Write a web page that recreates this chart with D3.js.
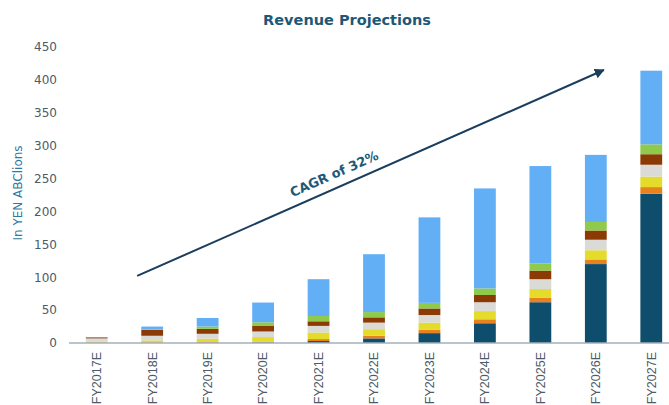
<!DOCTYPE html>
<html>
<head>
<meta charset="utf-8">
<script src="https://cdn.jsdelivr.net/npm/d3@7"></script>
<style>
  html, body { margin: 0; padding: 0; background: #fff; }
  svg { display: block; font-family: "DejaVu Sans", Verdana, sans-serif; }
</style>
</head>
<body>
<svg id="chart" width="669" height="405"></svg>
<script>
// ---- data ----
const categories = ["FY2017E","FY2018E","FY2019E","FY2020E","FY2021E","FY2022E","FY2023E","FY2024E","FY2025E","FY2026E","FY2027E"];
const seriesNames = ["S1","S2","S3","S4","S5","S6","S7"];
const s1Navy   = [0,   0,   0.5, 1,  3,  7,  15,  30,  62, 120, 227];
const s2Orange = [0.5, 1,   1,   1,  3,  4,  5,   6,   7,  7,   10];
const s3Yellow = [1,   3,   5,   7,  10, 10, 11,  12.5,13, 14,  16];
const s4Gray   = [5.5, 7,   7.5, 8.5,10, 10, 11.5,13.5,15, 16,  18];
const s5Brown  = [1.5, 9,   7.5, 9,  7,  8,  10,  11,  13, 14,  16];
const s6Green  = [0,   1,   3.5, 5,  8,  8,  8.5, 10,  11, 13,  15];
const s7Blue   = [0,   4,   13,  30, 56, 88, 130, 152, 148,102, 112];
const seriesColors = ["#0e4d6c","#e8821e","#e4db2b","#dadad6","#8b3a06","#8fca4a","#63aff6"];
const yTicks = [0,50,100,150,200,250,300,350,400,450];
const titleText = "Revenue Projections";
const yAxisTitle = "In YEN ABClions";
const cagrText = "CAGR of 32%";
// arrow annotation anchored in data space: [category, value]
const arrowFrom = ["FY2018E", 102];
const arrowTo = ["FY2026E", 415];

// ---- build ----
const svg = d3.select("#chart");
const table = categories.map((c, i) => ({
  cat: c, S1: s1Navy[i], S2: s2Orange[i], S3: s3Yellow[i], S4: s4Gray[i],
  S5: s5Brown[i], S6: s6Green[i], S7: s7Blue[i]
}));
const stack = d3.stack().keys(seriesNames)(table);

const x = d3.scaleBand().domain(categories).range([69, 679]).paddingInner(0.607).paddingOuter(0.3035);
const y = d3.scaleLinear().domain([0, 450]).range([343, 47]);

// title
svg.append("text").attr("x", 347).attr("y", 25).attr("text-anchor", "middle")
  .attr("font-size", 14.5).attr("font-weight", "bold").attr("fill", "#1f5876").text(titleText);

// y axis labels
const yAxis = d3.axisLeft(y).tickValues(yTicks).tickSize(0).tickPadding(0);
const gy = svg.append("g").attr("transform", "translate(57,0)").call(yAxis);
gy.select(".domain").remove();
gy.selectAll("text").attr("font-size", 12).attr("fill", "#4b5b67").attr("font-family", "DejaVu Sans, Verdana, sans-serif");

// y axis title
svg.append("text").attr("transform", "translate(22,193) rotate(-90)").attr("text-anchor", "middle")
  .attr("font-size", 12).attr("fill", "#2f7aa0").text(yAxisTitle);

// bars
svg.append("g").selectAll("g").data(stack).join("g")
  .attr("fill", (d, i) => seriesColors[i])
  .selectAll("rect").data(d => d).join("rect")
  .attr("x", d => x(d.data.cat))
  .attr("width", x.bandwidth())
  .attr("y", d => y(d[1]))
  .attr("height", d => Math.max(0, y(d[0]) - y(d[1])));

// x axis
const xAxis = d3.axisBottom(x).tickSize(0).tickPadding(0);
const gx = svg.append("g").attr("transform", `translate(0,${y(0)})`).call(xAxis);
gx.select(".domain").attr("stroke", "#a3b1bc").attr("stroke-width", 1.5).attr("d", "M69,0H669");
gx.selectAll("text")
  .attr("font-size", 12.5).attr("fill", "#4b5b67").attr("font-family", "Liberation Sans, Arial, sans-serif")
  .attr("text-anchor", "end").attr("dy", "0.35em")
  .attr("transform", "translate(0,9) rotate(-90)")
  .attr("x", 0).attr("y", 0);

// arrow
const defs = svg.append("defs");
defs.append("marker").attr("id", "ah").attr("viewBox", "0 0 10 10").attr("refX", 9).attr("refY", 5)
  .attr("markerWidth", 5).attr("markerHeight", 5).attr("orient", "auto")
  .append("path").attr("d", "M0,0L10,5L0,10z").attr("fill", "#1b3d5e");
const ax1 = x(arrowFrom[0]) + x.bandwidth() / 2 - 15, ay1 = y(arrowFrom[1]);
const ax2 = x(arrowTo[0]) + x.bandwidth() / 2 + 8, ay2 = y(arrowTo[1]);
svg.append("line").attr("x1", ax1).attr("y1", ay1).attr("x2", ax2).attr("y2", ay2)
  .attr("stroke", "#1b3d5e").attr("stroke-width", 2).attr("marker-end", "url(#ah)");
const ang = Math.atan2(ay2 - ay1, ax2 - ax1) * 180 / Math.PI;
svg.append("text").attr("transform", `translate(336,178) rotate(${ang})`).attr("text-anchor", "middle")
  .attr("font-size", 13).attr("font-weight", "bold").attr("fill", "#1d5a7a").text(cagrText);
</script>
</body>
</html>
